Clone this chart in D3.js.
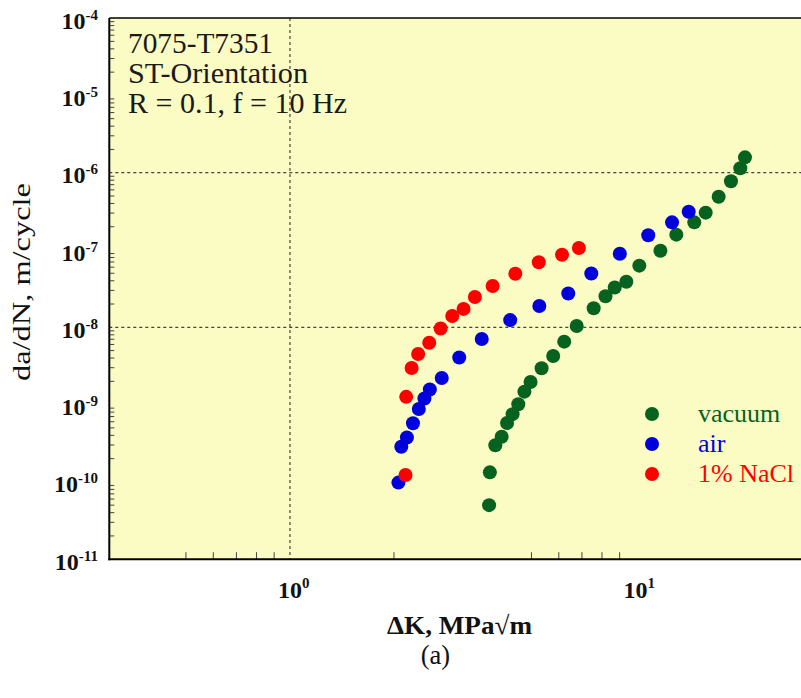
<!DOCTYPE html>
<html>
<head>
<meta charset="utf-8">
<script src="https://cdn.jsdelivr.net/npm/d3@7"></script>
<style>
body { margin: 0; background: #fff; }
svg { display: block; font-family: "Liberation Serif", "Times New Roman", serif; }
</style>
</head>
<body>
<svg id="chart" width="801" height="698"></svg>
<script>
// data: dK in MPa*sqrt(m), da/dN in m/cycle
var vacuumK = [3.77, 3.79, 3.93, 4.10, 4.25, 4.41, 4.58, 4.77, 4.97, 5.35, 5.78, 6.22, 6.76,
	7.57, 8.19, 8.71, 9.41, 10.26, 11.81, 13.13, 14.80, 15.97, 17.41, 18.90, 20.11, 20.75];
var vacuumRate = [5.0e-11, 1.33e-10, 2.98e-10, 3.84e-10, 5.78e-10, 7.52e-10, 1.01e-9, 1.47e-9,
	1.96e-9, 2.95e-9, 4.25e-9, 6.52e-9, 1.04e-8, 1.76e-8, 2.52e-8, 3.27e-8, 3.89e-8, 6.27e-8,
	9.77e-8, 1.58e-7, 2.28e-7, 3.04e-7, 4.89e-7, 7.74e-7, 1.14e-6, 1.58e-6];

var airK = [2.06, 2.10, 2.18, 2.27, 2.36, 2.45, 2.54, 2.75, 3.09, 3.59, 4.34, 5.27, 6.39,
	7.45, 9.01, 10.89, 12.76, 14.26];
var airRate = [9.8e-11, 2.85e-10, 3.75e-10, 5.73e-10, 8.77e-10, 1.20e-9, 1.57e-9, 2.21e-9,
	4.07e-9, 7.06e-9, 1.24e-8, 1.89e-8, 2.74e-8, 4.97e-8, 8.93e-8, 1.55e-7, 2.28e-7, 3.13e-7];

var naclK = [2.16, 2.17, 2.25, 2.35, 2.53, 2.73, 2.95, 3.18, 3.43, 3.86, 4.49, 5.25, 6.13, 6.86];
var naclRate = [1.23e-10, 1.26e-9, 2.97e-9, 4.52e-9, 6.32e-9, 9.64e-9, 1.40e-8, 1.73e-8,
	2.47e-8, 3.42e-8, 4.92e-8, 6.95e-8, 8.67e-8, 1.06e-7];

var seriesNames = ["vacuum", "air", "1% NaCl"];
var seriesColors = ["#07621f", "#0000dd", "#ff0000"];

var xMajor = [1, 10];
var xMinor = [0.5, 0.6, 0.7, 0.8, 0.9, 2, 5, 6, 7, 8, 9];
var yMajor = [1e-4, 1e-5, 1e-6, 1e-7, 1e-8, 1e-9, 1e-10, 1e-11];
var xGrid = [1];
var yGrid = [1e-6, 1e-8];

var noteLines = ["7075-T7351", "ST-Orientation", "R = 0.1, f = 10 Hz"];

var svg = d3.select("#chart");

var x = d3.scaleLog().domain([0.3, 30]).range([109.3, 800.3]);
var y = d3.scaleLog().domain([1e-11, 1e-4]).range([559.2, 18.1]);

// y minor ticks: 2..9 in every decade
var yMinor = [];
for (var e = -11; e < -4; e++) {
	for (var m = 2; m <= 9; m++) {
		yMinor.push(m * Math.pow(10, e));
	}
}

// plot background
svg.append("rect")
	.attr("x", x.range()[0]).attr("y", y.range()[1])
	.attr("width", 801 - x.range()[0]).attr("height", y.range()[0] - y.range()[1])
	.attr("fill", "#fbfbc4");

// dotted grid
svg.append("g").selectAll("line").data(yGrid).join("line")
	.attr("x1", x.range()[0]).attr("x2", 801)
	.attr("y1", function(d) { return y(d); }).attr("y2", function(d) { return y(d); })
	.attr("stroke", "#444").attr("stroke-width", 1.2).attr("stroke-dasharray", "3,3");
svg.append("g").selectAll("line").data(xGrid).join("line")
	.attr("x1", function(d) { return x(d); }).attr("x2", function(d) { return x(d); })
	.attr("y1", y.range()[1]).attr("y2", y.range()[0])
	.attr("stroke", "#444").attr("stroke-width", 1.2).attr("stroke-dasharray", "3,3");

// minor ticks, drawn inside the frame
svg.append("g").selectAll("line").data(yMinor).join("line")
	.attr("x1", x.range()[0]).attr("x2", x.range()[0] + 5)
	.attr("y1", function(d) { return y(d); }).attr("y2", function(d) { return y(d); })
	.attr("stroke", "#444").attr("stroke-width", 1);
svg.append("g").selectAll("line").data(xMinor).join("line")
	.attr("x1", function(d) { return x(d); }).attr("x2", function(d) { return x(d); })
	.attr("y1", y.range()[0]).attr("y2", y.range()[0] - 7)
	.attr("stroke", "#444").attr("stroke-width", 1);

// frame: left, bottom, top
svg.append("line").attr("x1", x.range()[0]).attr("x2", x.range()[0])
	.attr("y1", y.range()[1]).attr("y2", y.range()[0] + 1)
	.attr("stroke", "#000").attr("stroke-width", 2);
svg.append("line").attr("x1", x.range()[0] - 1).attr("x2", 801)
	.attr("y1", y.range()[0]).attr("y2", y.range()[0])
	.attr("stroke", "#000").attr("stroke-width", 2);
svg.append("line").attr("x1", x.range()[0]).attr("x2", 801)
	.attr("y1", y.range()[1]).attr("y2", y.range()[1])
	.attr("stroke", "#000").attr("stroke-width", 1.5);

// y tick labels 10^n
var yLab = svg.append("g").selectAll("text").data(yMajor).join("text")
	.attr("x", 98).attr("y", function(d) { return y(d) + 10.5; })
	.attr("text-anchor", "end").attr("font-weight", "bold").attr("font-size", 24)
	.attr("fill", "#111");
yLab.append("tspan").text("10");
yLab.append("tspan").attr("dy", -9).attr("font-size", 15)
	.text(function(d) { return Math.round(Math.log10(d)); });

// x tick labels 10^n, the "10" centred on the tick
var xLab = svg.append("g").selectAll("text").data(xMajor).join("text")
	.attr("x", function(d) { return x(d) - 12; }).attr("y", 598)
	.attr("font-weight", "bold").attr("font-size", 24).attr("fill", "#111");
xLab.append("tspan").text("10");
xLab.append("tspan").attr("dy", -10).attr("font-size", 15)
	.text(function(d) { return Math.round(Math.log10(d)); });

// axis titles
svg.append("text")
	.attr("transform", "translate(30,282) rotate(-90)")
	.attr("text-anchor", "middle").attr("font-size", 26)
	.attr("textLength", 198).attr("lengthAdjust", "spacingAndGlyphs")
	.attr("fill", "#111")
	.text("da/dN, m/cycle");
svg.append("text")
	.attr("x", 387).attr("y", 634)
	.attr("font-size", 26).attr("font-weight", "bold")
	.attr("textLength", 145).attr("lengthAdjust", "spacingAndGlyphs")
	.attr("fill", "#111")
	.text("\u0394K, MPa\u221Am");
svg.append("text")
	.attr("x", 435.5).attr("y", 664)
	.attr("text-anchor", "middle").attr("font-size", 26.5)
	.attr("fill", "#111")
	.text("(a)");

// material / test conditions
var noteWidths = [145, 180, 219];
svg.append("g").selectAll("text").data(noteLines).join("text")
	.attr("x", 128).attr("y", function(d, i) { return 53 + i * 29.8; })
	.attr("font-size", 28.5).attr("fill", "#1a1a1a")
	.attr("textLength", function(d, i) { return noteWidths[i]; })
	.attr("lengthAdjust", "spacingAndGlyphs")
	.text(function(d) { return d; });

// data points
function drawSeries(ks, rates, color) {
	var pts = ks.map(function(k, i) { return [k, rates[i]]; });
	svg.append("g").selectAll("circle").data(pts).join("circle")
		.attr("cx", function(d) { return x(d[0]); })
		.attr("cy", function(d) { return y(d[1]); })
		.attr("r", 7)
		.attr("fill", color);
}
drawSeries(vacuumK, vacuumRate, seriesColors[0]);
drawSeries(airK, airRate, seriesColors[1]);
drawSeries(naclK, naclRate, seriesColors[2]);

// legend
var leg = svg.append("g").selectAll("g").data(seriesNames).join("g")
	.attr("transform", function(d, i) { return "translate(652," + (414 + i * 30) + ")"; });
leg.append("circle").attr("r", 7)
	.attr("fill", function(d, i) { return seriesColors[i]; });
leg.append("text").attr("x", 46).attr("y", 8)
	.attr("font-size", 26)
	.attr("fill", function(d, i) { return seriesColors[i]; })
	.text(function(d) { return d; });
</script>
</body>
</html>
